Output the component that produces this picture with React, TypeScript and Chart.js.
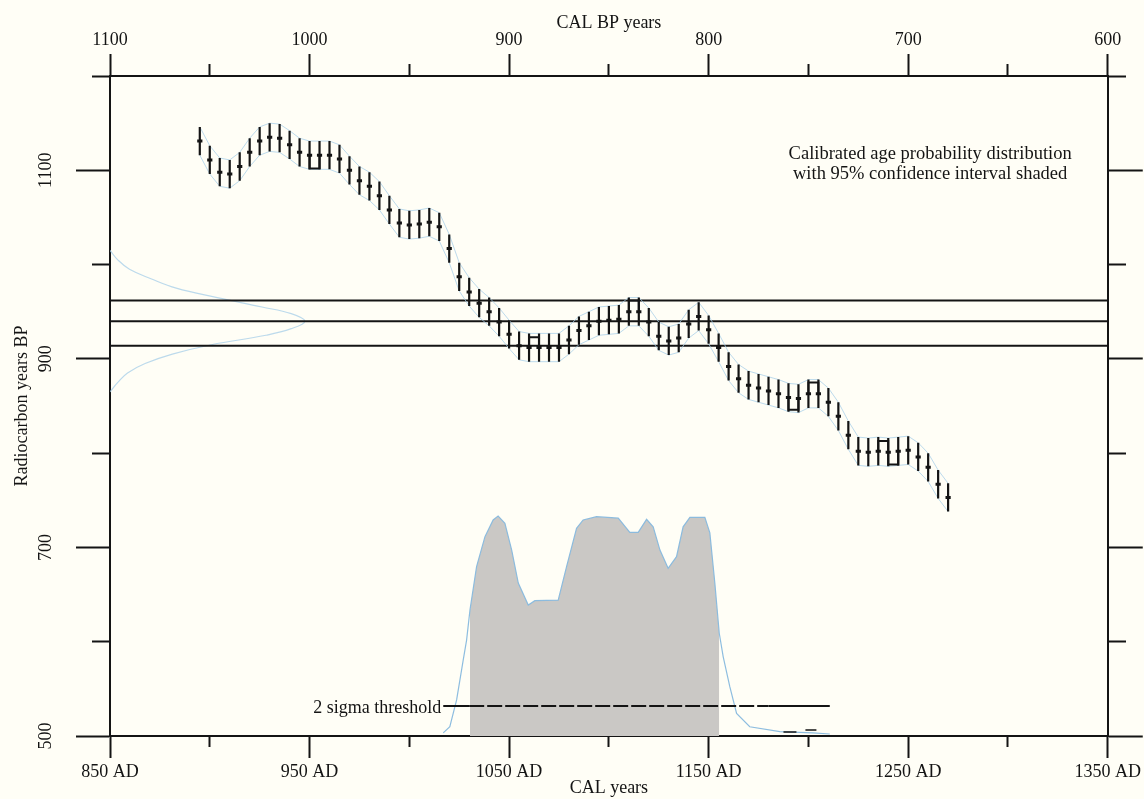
import React, { useEffect, useRef } from 'react';
import { Chart, registerables } from 'chart.js';

Chart.register(...registerables);

const FONT = "'Liberation Serif', 'Times New Roman', serif";
const INK = '#141414';
const PALE_BLUE = 'rgba(135,185,222,0.95)';
const FAINT_BLUE = 'rgba(165,205,232,0.75)';
const SHADE = '#cac8c5';
const PAGE_BG = '#fffef6';

// ---- Calibration curve (CAL AD years vs radiocarbon BP) ----
const curveYears = [
  895, 900, 905, 910, 915, 920, 925, 930, 935, 940, 945, 950, 955, 960, 965, 970, 975, 980, 985, 990,
  995, 1000, 1005, 1010, 1015, 1020, 1025, 1030, 1035, 1040, 1045, 1050, 1055, 1060, 1065, 1070, 1075, 1080, 1085, 1090,
  1095, 1100, 1105, 1110, 1115, 1120, 1125, 1130, 1135, 1140, 1145, 1150, 1155, 1160, 1165, 1170, 1175, 1180, 1185, 1190,
  1195, 1200, 1205, 1210, 1215, 1220, 1225, 1230, 1235, 1240, 1245, 1250, 1255, 1260, 1265, 1270,
];
const curveBP = [
  1131, 1111, 1098, 1096, 1104, 1119, 1131, 1135, 1134, 1127, 1119, 1116, 1116, 1116, 1112, 1100, 1089, 1083, 1073, 1058,
  1044, 1042, 1043, 1045, 1040, 1017, 987, 971, 959, 950, 939, 926, 914, 912, 912, 912, 912, 920, 930, 935,
  940, 941, 942, 950, 950, 939, 924, 919, 922, 937, 945, 931, 912, 892, 879, 872, 869, 866, 863, 859,
  858, 863, 863, 854, 839, 819, 802, 801, 802, 801, 802, 803, 796, 785, 767, 753,
];
const curveError = 15;
const envelopeError = 15;

// joins drawn between neighbouring curve points: [fromYear, toYear, extreme BP]
const stepJoins: [number, number, number][] = [
  [950, 955, 1102],
  [1060, 1065, 923],
  [1110, 1115, 962],
  [1190, 1195, 846],
  [1200, 1205, 875],
  [1235, 1240, 813],
  [1240, 1245, 788],
];

// ---- Measurement (radiocarbon BP) ----
const measurementLines = [962, 940, 914];
const measBP = [1015, 1005, 995, 985, 975, 965, 955, 948, 940, 932, 925, 915, 905, 895, 885, 875, 865];
const measDensity = [0.0, 0.04, 0.1, 0.21, 0.34, 0.55, 0.78, 0.93, 1.0, 0.93, 0.8, 0.52, 0.32, 0.18, 0.09, 0.04, 0.0];

// ---- Calibrated age probability distribution ----
const calYears = [
  1017, 1020.3, 1023.7, 1027, 1028.7, 1030.4, 1033.7, 1037.9, 1042, 1044.5, 1047.9, 1051.3, 1054.6, 1059.6, 1062.9,
  1074.6, 1078.8, 1083.8, 1087.1, 1093.8, 1104.7, 1110.5, 1114.7, 1118.9, 1122.2, 1125.6, 1129.7, 1133.9, 1137.2,
  1140.6, 1148.1, 1150.6, 1153.1, 1155.3, 1157.3, 1160.6, 1164, 1170.6, 1185.7, 1202.2, 1210.7,
];
const calProb = [
  0.014, 0.042, 0.164, 0.345, 0.436, 0.573, 0.77, 0.906, 0.982, 1.0, 0.967, 0.845, 0.695, 0.595, 0.615,
  0.618, 0.77, 0.944, 0.982, 0.997, 0.99, 0.926, 0.926, 0.985, 0.951, 0.845, 0.762, 0.815, 0.951,
  0.994, 0.994, 0.923, 0.695, 0.468, 0.36, 0.224, 0.103, 0.042, 0.02, 0.014, 0.009,
];
const range95 = [1030.4, 1155.3];
const twoSigmaThreshold = 0.136;
const thresholdYears = [1017, 1030, 1180, 1210.7];
const tailMarks: [number, number, number][] = [
  [1187.5, 1194, 0.018],
  [1198.5, 1204, 0.027],
];

// ---- Texts ----
const noteLines = ['Calibrated age probability distribution', 'with 95% confidence interval shaded'];
const noteYear = 1261;
const noteBP = [1117, 1096];
const thresholdLabel = '2 sigma threshold';

const tickFont = { family: FONT, size: 18 };

function bpAt(year: number): number {
  return curveBP[curveYears.indexOf(year)];
}

function buildConfig(): any {
  const errorBars: any[] = [];
  curveYears.forEach((yr, i) => {
    errorBars.push({ x: yr, y: curveBP[i] - curveError });
    errorBars.push({ x: yr, y: curveBP[i] + curveError });
    errorBars.push({ x: yr, y: null });
  });
  const joins: any[] = [];
  stepJoins.forEach(([a, b, ext]) => {
    joins.push({ x: a, y: bpAt(a) }, { x: a, y: ext }, { x: b, y: ext }, { x: b, y: bpAt(b) }, { x: b, y: null });
  });
  const shaded: any[] = [];
  calYears.forEach((yr, i) => {
    if (yr >= range95[0] && yr <= range95[1]) shaded.push({ x: yr, y: calProb[i] });
  });
  shaded.unshift({ x: range95[0], y: 0 });
  shaded.push({ x: range95[1], y: 0 });
  const tails: any[] = [];
  tailMarks.forEach(([a, b, v]) => {
    tails.push({ x: a, y: v }, { x: b, y: v }, { x: b, y: null });
  });

  const datasets: any[] = [
    {
      label: 'shaded',
      data: shaded,
      xAxisID: 'x',
      yAxisID: 'yProb',
      borderWidth: 0,
      borderColor: 'rgba(0,0,0,0)',
      backgroundColor: SHADE,
      fill: 'origin',
      pointRadius: 0,
      order: 20,
    },
    {
      label: 'calibrated',
      data: calYears.map((yr, i) => ({ x: yr, y: calProb[i] })),
      xAxisID: 'x',
      yAxisID: 'yProb',
      borderWidth: 1.2,
      borderColor: PALE_BLUE,
      fill: false,
      pointRadius: 0,
      order: 19,
    },
    {
      label: 'measurement',
      data: measBP.map((bp, i) => ({ x: measDensity[i], y: bp })),
      xAxisID: 'xMeas',
      yAxisID: 'y',
      borderWidth: 1.2,
      borderColor: FAINT_BLUE,
      fill: false,
      pointRadius: 0,
      tension: 0.4,
      order: 18,
    },
    ...measurementLines.map((bp) => ({
      label: 'm' + bp,
      data: [
        { x: 850, y: bp },
        { x: 1350, y: bp },
      ],
      xAxisID: 'x',
      yAxisID: 'y',
      borderWidth: 2,
      borderColor: INK,
      pointRadius: 0,
      fill: false,
      order: 10,
    })),
    {
      label: 'upper',
      data: curveYears.map((yr, i) => ({ x: yr, y: curveBP[i] + envelopeError })),
      xAxisID: 'x',
      yAxisID: 'y',
      borderWidth: 1,
      borderColor: FAINT_BLUE,
      pointRadius: 0,
      fill: false,
      order: 9,
    },
    {
      label: 'lower',
      data: curveYears.map((yr, i) => ({ x: yr, y: curveBP[i] - envelopeError })),
      xAxisID: 'x',
      yAxisID: 'y',
      borderWidth: 1,
      borderColor: FAINT_BLUE,
      pointRadius: 0,
      fill: false,
      order: 9,
    },
    {
      label: 'threshold',
      data: thresholdYears.map((yr) => ({ x: yr, y: twoSigmaThreshold })),
      xAxisID: 'x',
      yAxisID: 'yProb',
      borderWidth: 2,
      borderColor: INK,
      pointRadius: 0,
      fill: false,
      segment: {
        borderDash: (c: any) => (c.p0.parsed.x >= thresholdYears[1] && c.p0.parsed.x < thresholdYears[2] ? [15, 3] : []),
      },
      order: 5,
    },
    {
      label: 'tails',
      data: tails,
      xAxisID: 'x',
      yAxisID: 'yProb',
      borderWidth: 1.5,
      borderColor: INK,
      pointRadius: 0,
      spanGaps: false,
      fill: false,
      order: 5,
    },
    {
      label: 'joins',
      data: joins,
      xAxisID: 'x',
      yAxisID: 'y',
      borderWidth: 2,
      borderColor: INK,
      pointRadius: 0,
      spanGaps: false,
      fill: false,
      order: 3,
    },
    {
      label: 'errors',
      data: errorBars,
      xAxisID: 'x',
      yAxisID: 'y',
      borderWidth: 2.2,
      borderColor: INK,
      pointRadius: 0,
      spanGaps: false,
      fill: false,
      order: 2,
    },
    {
      label: 'centres',
      data: curveYears.map((yr, i) => ({ x: yr, y: curveBP[i] })),
      xAxisID: 'x',
      yAxisID: 'y',
      showLine: false,
      pointStyle: 'line',
      pointRadius: 2.6,
      pointBorderWidth: 3,
      pointBorderColor: INK,
      pointBackgroundColor: INK,
      order: 1,
    },
  ];

  const dash = (major: boolean, minorDash: number[]) => (major ? [] : minorDash);

  const notePlugin = {
    id: 'notes',
    afterDatasetsDraw(chart: any) {
      const { ctx, scales } = chart;
      ctx.save();
      ctx.font = `18.5px ${FONT}`;
      ctx.fillStyle = INK;
      ctx.textBaseline = 'middle';
      ctx.textAlign = 'center';
      noteLines.forEach((t, i) => {
        ctx.fillText(t, scales.x.getPixelForValue(noteYear), scales.y.getPixelForValue(noteBP[i]));
      });
      ctx.font = `18px ${FONT}`;
      ctx.textAlign = 'right';
      ctx.fillText(
        thresholdLabel,
        scales.x.getPixelForValue(thresholdYears[0]) - 2,
        scales.yProb.getPixelForValue(twoSigmaThreshold) + 2,
      );
      ctx.restore();
    },
  };

  return {
    type: 'line',
    data: { datasets },
    plugins: [notePlugin],
    options: {
      responsive: false,
      animation: false,
      events: [],
      layout: { padding: 0 },
      elements: { line: { tension: 0 }, point: { radius: 0 } },
      plugins: { legend: { display: false }, tooltip: { enabled: false } },
      scales: {
        x: {
          type: 'linear',
          position: 'bottom',
          min: 850,
          max: 1350,
          afterFit: (s: any) => {
            s.height = 63;
          },
          border: { display: true, color: INK, width: 2 },
          grid: {
            drawOnChartArea: false,
            drawTicks: true,
            tickLength: 22,
            tickWidth: 2,
            tickColor: INK,
            tickBorderDash: (c: any) => dash(!c.tick || c.tick.value % 100 === 50, [10, 100]),
          },
          ticks: {
            stepSize: 50,
            autoSkip: false,
            maxRotation: 0,
            padding: 3,
            font: tickFont,
            color: INK,
            callback: (v: number) => (v % 100 === 50 ? `${v} AD` : ''),
          },
          title: { display: true, text: 'CAL years', font: tickFont, color: INK, padding: { top: 0, bottom: 0 } },
        },
        xTop: {
          type: 'linear',
          axis: 'x',
          position: 'top',
          min: 600,
          max: 1100,
          reverse: true,
          afterFit: (s: any) => {
            s.height = 76;
          },
          border: { display: true, color: INK, width: 2 },
          grid: {
            drawOnChartArea: false,
            drawTicks: true,
            tickLength: 22,
            tickWidth: 2,
            tickColor: INK,
            tickBorderDash: (c: any) => dash(!c.tick || c.tick.value % 100 === 0, [0, 10, 12, 100]),
          },
          ticks: {
            stepSize: 50,
            autoSkip: false,
            maxRotation: 0,
            padding: 3,
            font: tickFont,
            color: INK,
            callback: (v: number) => (v % 100 === 0 ? String(v) : ''),
          },
          title: { display: true, text: 'CAL BP years', font: tickFont, color: INK, padding: { top: 12, bottom: 0 } },
        },
        y: {
          type: 'linear',
          position: 'left',
          min: 500,
          max: 1200,
          afterFit: (s: any) => {
            s.width = 110;
          },
          border: { display: true, color: INK, width: 2 },
          grid: {
            drawOnChartArea: false,
            drawTicks: true,
            tickLength: 34,
            tickWidth: 2,
            tickColor: INK,
            tickBorderDash: (c: any) => dash(!c.tick || c.tick.value % 200 === 100, [0, 16, 20, 100]),
          },
          ticks: {
            stepSize: 100,
            autoSkip: false,
            minRotation: 90,
            maxRotation: 90,
            crossAlign: 'center',
            padding: 12,
            font: tickFont,
            color: INK,
            callback: (v: number) => (v % 200 === 100 ? String(v) : ''),
          },
          title: {
            display: true,
            text: 'Radiocarbon years BP',
            font: tickFont,
            color: INK,
            padding: { top: 11, bottom: 0 },
          },
        },
        yRight: {
          type: 'linear',
          axis: 'y',
          position: 'right',
          min: 500,
          max: 1200,
          afterFit: (s: any) => {
            s.width = 36;
          },
          border: { display: true, color: INK, width: 2 },
          grid: {
            drawOnChartArea: false,
            drawTicks: true,
            tickLength: 35,
            tickWidth: 2,
            tickColor: INK,
            tickBorderDash: (c: any) => dash(!c.tick || c.tick.value % 200 === 100, [17, 100]),
          },
          ticks: { stepSize: 100, display: false },
        },
        yProb: { type: 'linear', axis: 'y', display: false, min: 0, max: 3 },
        xMeas: { type: 'linear', axis: 'x', display: false, min: 0, max: 5.12 },
      },
    },
  };
}

export default function App() {
  const ref = useRef<HTMLCanvasElement>(null);
  useEffect(() => {
    if (!ref.current) return;
    const chart = new Chart(ref.current, buildConfig());
    return () => chart.destroy();
  }, []);
  return (
    <div style={{ position: 'fixed', left: 0, top: 0, width: 1144, height: 799, background: PAGE_BG }}>
      <canvas ref={ref} width={1144} height={799} style={{ display: 'block', width: 1144, height: 799 }} />
    </div>
  );
}
